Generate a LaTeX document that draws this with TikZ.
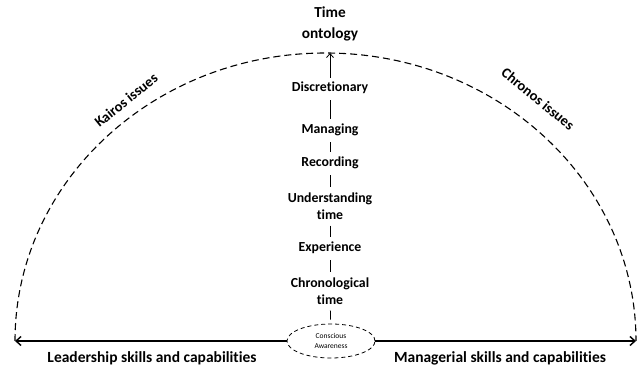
\documentclass[tikz,border=0pt]{standalone}
\usepackage{fontspec}
\setmainfont{Carlito}[Ligatures=NoCommon]
\usetikzlibrary{arrows.meta,shapes.geometric}

\begin{document}
\begin{tikzpicture}[x=1pt,y=1pt,thick,every node/.style={inner sep=1pt,align=center,font=\bfseries\fontsize{13.8}{16.5}\selectfont}]
\useasboundingbox(0,0)rectangle(638,-369);
\coordinate(L)at(15,-341);\coordinate(R)at(636,-341);\coordinate(T)at(330,-53);
\draw[dash pattern=on 7pt off 4pt,line width=1.1pt](L)arc(180:0:310.5 and 288);
\node(top)at(330,-24)[font=\bfseries\fontsize{15.3}{20.5}\selectfont]{Time\\ontology};
\node(disc)at(330,-88){Discretionary};
\node(mng)at(330,-130){Managing};
\node(rec)at(330,-163){Recording};
\node(und)at(330,-206){Understanding\\time};
\node(exp)at(330,-248){Experience};
\node(chr)at(330,-291){Chronological\\time};
\node(ca)at(331,-341)[ellipse,draw,dash pattern=on 4pt off 3pt,minimum width=88pt,minimum height=34pt,font=\fontsize{7.5}{10}\selectfont]{Conscious\\Awareness};
\draw[-{Straight Barb[length=4pt,width=7pt]},shorten <=3pt](disc)--(T);
\foreach \a/\b in{disc/mng,mng/rec,rec/und,und/exp,exp/chr,chr/ca}
\draw[shorten <=5pt,shorten >=4pt](\a)--(\b);
\draw[line width=1.4pt,-{Straight Barb[length=5pt,width=9pt]}](ca.west)--(L);
\draw[line width=1.4pt,-{Straight Barb[length=5pt,width=9pt]}](ca.east)--(R);
\node(lead)at(152,-358)[font=\bfseries\fontsize{15.5}{18}\selectfont]{Leadership skills and capabilities};
\node(man)at(500,-358)[font=\bfseries\fontsize{15.5}{18}\selectfont]{Managerial skills and capabilities};
\node(kai)at(126,-100)[rotate=39,font=\bfseries\fontsize{14.5}{17}\selectfont]{Kairos issues};
\node(chro)at(538,-99)[rotate=-39,font=\bfseries\fontsize{14.5}{17}\selectfont]{Chronos issues};
\end{tikzpicture}
\end{document}
